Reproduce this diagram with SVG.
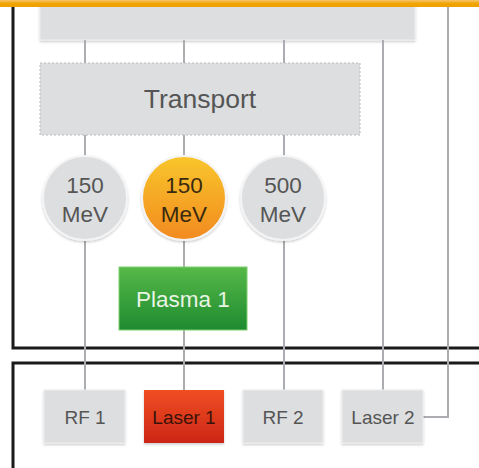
<svg xmlns="http://www.w3.org/2000/svg" width="479" height="468" viewBox="0 0 479 468">
<style>
.ln{stroke:#abadb0;stroke-width:2;fill:none}
.frame{stroke:#1a1a1a;stroke-width:3;fill:none}
.box{fill:#dcdee0;stroke:#eeeeee;stroke-width:1}
.t{font-family:"Liberation Sans",Arial,sans-serif;text-anchor:middle;fill:#555}
.c{fill:#dcdee0;stroke:#f4f4f4;stroke-width:2}
</style>
<defs>
<linearGradient id="og" x1="0" y1="0" x2="0" y2="1"><stop offset="0" stop-color="#f9c62c"/><stop offset="1" stop-color="#f28a1f"/></linearGradient>
<linearGradient id="gg" x1="0" y1="0" x2="0" y2="1"><stop offset="0" stop-color="#56b948"/><stop offset="1" stop-color="#1e8a30"/></linearGradient>
<linearGradient id="rg" x1="0" y1="0" x2="0" y2="1"><stop offset="0" stop-color="#f04e24"/><stop offset="1" stop-color="#cc2616"/></linearGradient>
<linearGradient id="bar" x1="0" y1="0" x2="0" y2="1"><stop offset="0" stop-color="#f7c46a"/><stop offset="0.5" stop-color="#f0a500"/><stop offset="1" stop-color="#eda000"/></linearGradient>
<filter id="sh" x="-10%" y="-10%" width="120%" height="130%"><feDropShadow dx="0" dy="1.5" stdDeviation="1" flood-color="#000" flood-opacity="0.2"/></filter>
</defs>
<rect width="479" height="468" fill="#fff"/>
<g id="frames">
<path class="frame" d="M13 0V348H479"/>
<path class="frame" d="M479 363H13V468"/>
</g>
<g id="top"><rect class="box" x="40" y="-10" width="375" height="50" filter="url(#sh)"/></g>
<g id="connectors">
<path class="ln" d="M85 40V63M184 40V63M284 40V63"/>
<path class="ln" d="M85 135V157M184 135V157M284 135V157"/>
<path class="ln" d="M85 240V390M184 240V267M184 330V390M284 240V390"/>
<path class="ln" d="M383 40V390"/>
<path class="ln" d="M448 0V417H423"/>
</g>
<g id="transport"><rect x="40" y="63" width="320" height="72" fill="#dcdee0" stroke="#b8babd" stroke-width="1" stroke-dasharray="2 2"/><text class="t" x="200" y="108" font-size="26.5">Transport</text></g>
<g id="c1"><circle class="c" cx="85" cy="198" r="42" filter="url(#sh)"/><text class="t" x="85" y="193" font-size="22.5">150</text><text class="t" x="85" y="222" font-size="22.5">MeV</text></g>
<g id="c2"><circle cx="184" cy="198" r="42" fill="url(#og)" stroke="#f4f4f4" stroke-width="2" filter="url(#sh)"/><text class="t" x="184" y="193" font-size="22.5" style="fill:#3a2a10">150</text><text class="t" x="184" y="222" font-size="22.5" style="fill:#3a2a10">MeV</text></g>
<g id="c3"><circle class="c" cx="283" cy="198" r="42" filter="url(#sh)"/><text class="t" x="283" y="193" font-size="22.5">500</text><text class="t" x="283" y="222" font-size="22.5">MeV</text></g>
<g id="plasma"><rect x="119" y="267" width="128" height="63" fill="url(#gg)" stroke="#7fcf6f" stroke-width="1"/><text class="t" x="183" y="307" font-size="22.5" style="fill:#e8f4e4">Plasma 1</text></g>
<g id="rf1"><rect class="box" x="44" y="390" width="81" height="53" filter="url(#sh)"/><text class="t" x="85" y="424" font-size="19">RF 1</text></g>
<g id="laser1"><rect x="144" y="390" width="80" height="53" fill="url(#rg)" filter="url(#sh)"/><text class="t" x="184" y="424" font-size="19" style="fill:#3a1208">Laser 1</text></g>
<g id="rf2"><rect class="box" x="243" y="390" width="80" height="53" filter="url(#sh)"/><text class="t" x="283" y="424" font-size="19">RF 2</text></g>
<g id="laser2"><rect class="box" x="342" y="390" width="81" height="53" filter="url(#sh)"/><text class="t" x="383" y="424" font-size="19">Laser 2</text></g>
<g id="bar"><rect x="0" y="0" width="479" height="7" fill="url(#bar)"/></g>
</svg>
